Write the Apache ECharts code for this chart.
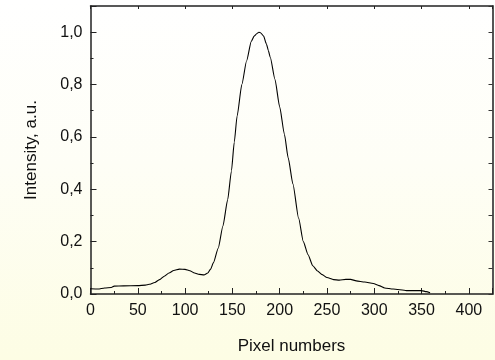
<!DOCTYPE html>
<html><head><meta charset="utf-8">
<script src="https://cdn.jsdelivr.net/npm/echarts@6/dist/echarts.min.js"></script>
<style>html,body{margin:0;padding:0;background:linear-gradient(to bottom,#ffffff 0%,#fefef6 45%,#fdfde4 100%);}#c{width:495px;height:360px;}</style>
</head><body><div id="c"></div>
<script>
const pixelX = [0,8,15,22,25,35,50,58,62,68,73,78,83,88,94,100,105,110,115,120,124,127,130,135,140,145,149,152,155,160,165,170,173,176,178,180,183,186,188,190,195,200,205,209,214,220,225,230,235,240,245,250,257,263,270,275,281,290,299,305,311,320,334,350,355,359];
const intensity = [0.020,0.019,0.023,0.025,0.030,0.031,0.032,0.034,0.037,0.044,0.055,0.068,0.080,0.090,0.095,0.094,0.089,0.080,0.075,0.073,0.080,0.095,0.12,0.175,0.26,0.36,0.47,0.58,0.68,0.80,0.89,0.965,0.985,0.995,1.0,0.997,0.985,0.955,0.93,0.905,0.82,0.715,0.61,0.52,0.42,0.29,0.20,0.15,0.108,0.088,0.074,0.063,0.055,0.053,0.056,0.056,0.050,0.046,0.040,0.032,0.023,0.019,0.013,0.013,0.009,0.005];
const xTicks = [0,50,100,150,200,250,300,350,400];
const yTicks = [0,0.2,0.4,0.6,0.8,1.0];
const xTitle = 'Pixel numbers';
const yTitle = 'Intensity, a.u.';

const chart = echarts.init(document.getElementById('c'), null, {renderer:'canvas'});
const font = 'Liberation Sans, Arial, sans-serif';
const axisLine = {show:true, onZero:false, lineStyle:{color:'#222', width:1.5}};
const data = pixelX.map((x,i)=>[x,intensity[i]]);
chart.setOption({
  backgroundColor:'transparent',
  animation:false,
  grid:{left:90.5, right:2.5, top:6, bottom:56.5, containLabel:false},
  xAxis:[{
    type:'value', min:0, max:425, interval:50,
    axisLine:axisLine,
    axisTick:{show:true, inside:true, length:6, lineStyle:{color:'#222', width:1}},
    minorTick:{show:true, splitNumber:2, length:3, lineStyle:{color:'#222', width:1}},
    splitLine:{show:false},
    axisLabel:{color:'#111', fontSize:16, fontFamily:font, margin:9, showMaxLabel:false,
      formatter:v=> xTicks.includes(v) ? String(v) : ''},
    name:xTitle, nameLocation:'middle', nameGap:44,
    nameTextStyle:{color:'#111', fontSize:17, fontFamily:font}
  },{
    type:'value', position:'top', min:0, max:425, interval:50,
    axisLine:axisLine,
    axisTick:{show:true, inside:true, length:3, lineStyle:{color:'#222'}},
    axisLabel:{show:false}, splitLine:{show:false}
  }],
  yAxis:[{
    type:'value', min:0, max:1.1, interval:0.2,
    axisLine:axisLine,
    axisTick:{show:true, inside:true, length:6, lineStyle:{color:'#222', width:1}},
    minorTick:{show:true, splitNumber:2, length:3, lineStyle:{color:'#222', width:1}},
    splitLine:{show:false},
    axisLabel:{color:'#111', fontSize:16, fontFamily:font, margin:8,
      formatter:v=>{ const t=yTicks.find(k=>Math.abs(k-v)<1e-6); return t===undefined?'':t.toFixed(1).replace('.',','); }},
    name:yTitle, nameLocation:'middle', nameGap:51,
    nameTextStyle:{color:'#111', fontSize:17, fontFamily:font}
  },{
    type:'value', position:'right', min:0, max:1.1, interval:0.1,
    axisLine:{show:true, onZero:false, lineStyle:{color:'#555', width:2}},
    axisTick:{show:true, inside:true, length:4, lineStyle:{color:'#333'}},
    axisLabel:{show:false}, splitLine:{show:false}
  }],
  series:[{
    type:'line', data:data, xAxisIndex:0, yAxisIndex:0,
    showSymbol:false, symbol:'none', smooth:0.2, smoothMonotone:'x',
    lineStyle:{color:'#000', width:1.1}
  }]
});
</script></body></html>
